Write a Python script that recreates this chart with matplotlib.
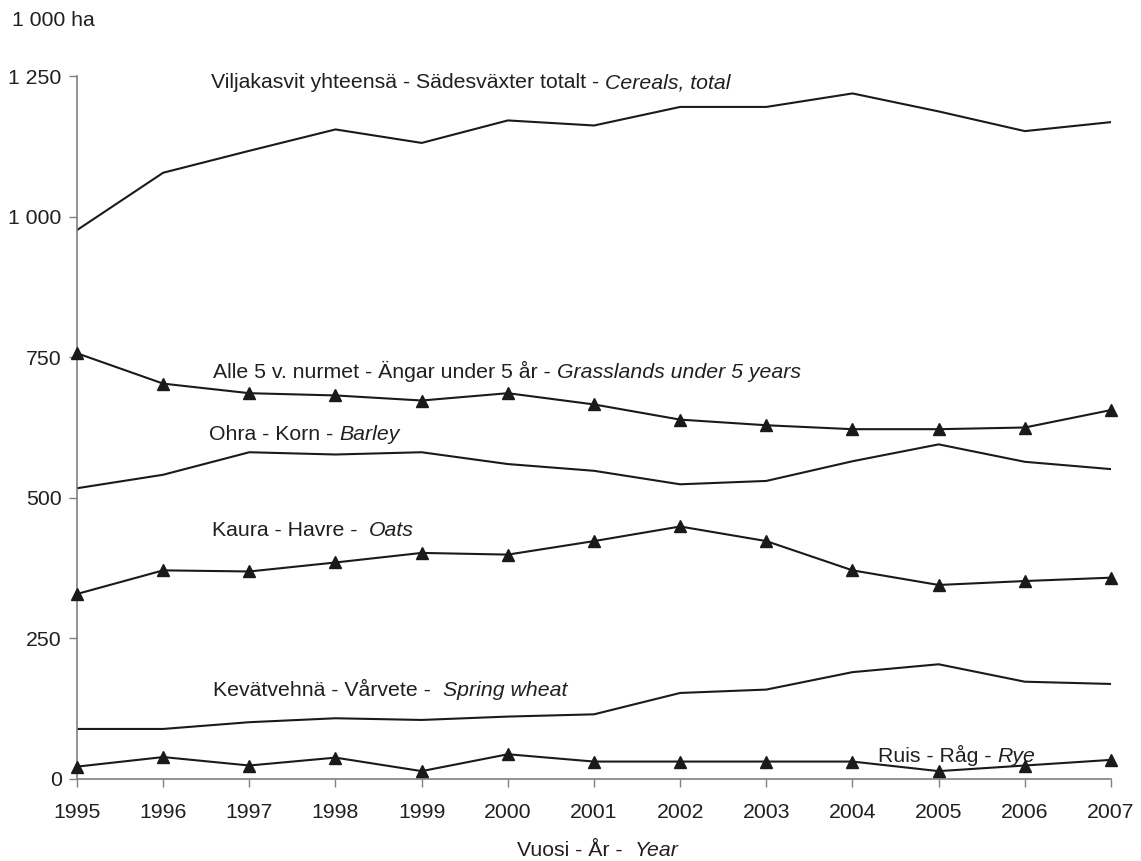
import matplotlib
matplotlib.use("Agg")
import matplotlib.pyplot as plt

plt.rcParams['font.family'] = ['Liberation Sans', 'DejaVu Sans']

# Data (1 000 ha)
years = list(range(1995, 2008))
cereals = [976, 1078, 1117, 1155, 1131, 1171, 1162, 1195, 1195, 1219, 1187, 1152, 1168]
grass = [757, 703, 686, 682, 673, 686, 666, 639, 629, 622, 622, 625, 656]
barley = [517, 541, 581, 577, 581, 560, 548, 524, 530, 565, 595, 564, 551]
oats = [329, 371, 369, 385, 402, 399, 423, 449, 423, 371, 345, 352, 358]
wheat = [89, 89, 101, 108, 105, 111, 115, 153, 159, 190, 204, 173, 169]
rye = [22, 39, 24, 38, 14, 44, 31, 31, 31, 31, 14, 24, 34]

yticks = [0, 250, 500, 750, 1000, 1250]
ytick_labels = ['0', '250', '500', '750', '1 000', '1 250']

W, H = 1141, 861
fig = plt.figure(figsize=(W / 100, H / 100), dpi=100)
ax = fig.add_axes([77 / W, 1 - 779 / H, (1111 - 77) / W, (779 - 76) / H])

lc = '#1a1a1a'
tc = '#231f20'
fs = 15.3

ax.plot(years, cereals, color=lc, lw=1.5)
ax.plot(years, grass, color=lc, lw=1.5, marker='^', ms=8, clip_on=False, zorder=3)
ax.plot(years, barley, color=lc, lw=1.5)
ax.plot(years, oats, color=lc, lw=1.5, marker='^', ms=8, clip_on=False, zorder=3)
ax.plot(years, wheat, color=lc, lw=1.5)
ax.plot(years, rye, color=lc, lw=1.5, marker='^', ms=8, clip_on=False, zorder=3)

ax.set_xlim(1995, 2007)
ax.set_ylim(0, 1250)
ax.set_xticks(years)
ax.set_xticklabels([str(y) for y in years], fontsize=fs, color=tc)
ax.set_yticks(yticks)
ax.set_yticklabels(ytick_labels, fontsize=fs, color=tc)
for s in ['top', 'right']:
    ax.spines[s].set_visible(False)
for s in ['left', 'bottom']:
    ax.spines[s].set_color('#808080')
    ax.spines[s].set_linewidth(1.2)
ax.tick_params(axis='both', direction='out', length=6, width=1, color='#808080')
ax.tick_params(axis='x', pad=11)
ax.tick_params(axis='y', pad=5)


def label(x, y, normal, italic):
    # normal part followed by italic part, positioned in pixels
    t = fig.text(x / W, 1 - y / H, normal, fontsize=fs, color=tc, va='center', ha='left')
    fig.canvas.draw()
    bb = t.get_window_extent()
    fig.text(bb.x1 / W, bb.y0 / H, italic, fontsize=fs, color=tc, va='bottom',
             ha='left', style='italic')


label(211, 83, 'Viljakasvit yhteensä - Sädesväxter totalt - ', 'Cereals, total')
label(213, 371, 'Alle 5 v. nurmet - Ängar under 5 år - ', 'Grasslands under 5 years')
label(209, 435, 'Ohra - Korn - ', 'Barley')
label(212, 531, 'Kaura - Havre -  ', 'Oats')
label(213, 691, 'Kevätvehnä - Vårvete -  ', 'Spring wheat')
label(878, 755, 'Ruis - Råg - ', 'Rye')
label(517, 850, 'Vuosi - År -  ', 'Year')

fig.text(12 / W, 1 - 20 / H, '1 000 ha', fontsize=fs, color=tc, va='center', ha='left')

fig.savefig('out.png', dpi=100)
